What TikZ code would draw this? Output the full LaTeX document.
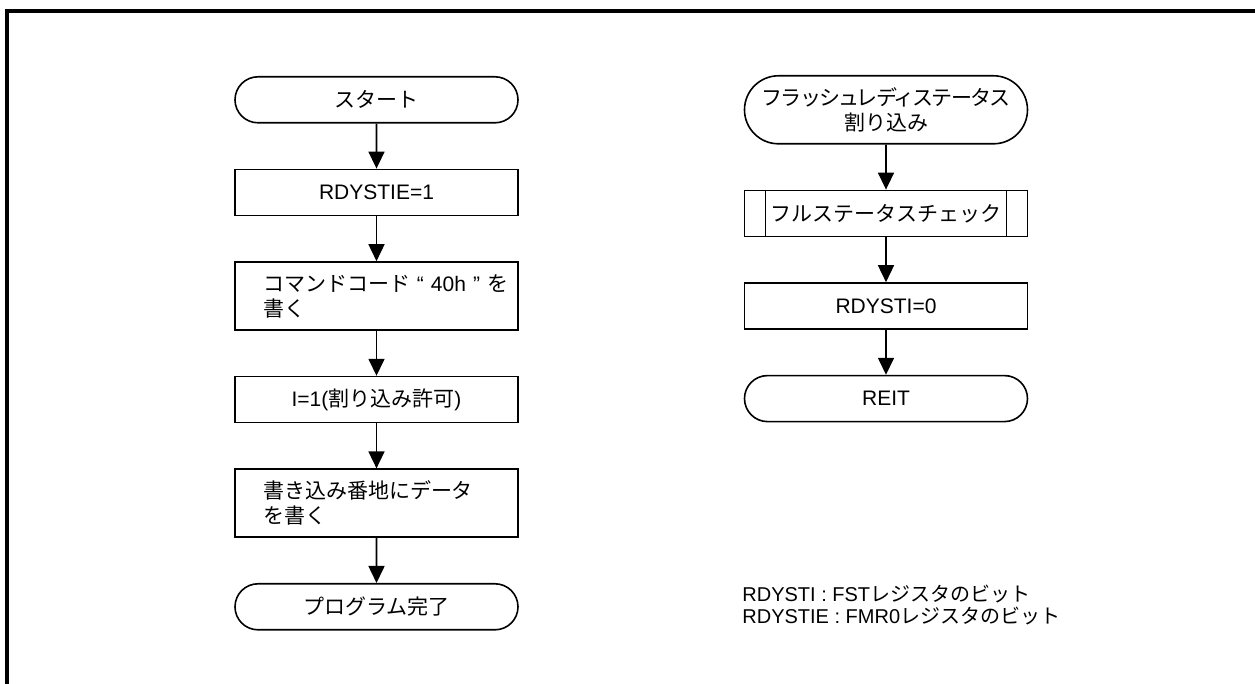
\documentclass[tikz,border=0pt]{standalone}
\usepackage{fontspec}
\setmainfont{Liberation Sans}
\newfontfamily\jp{Noto Sans CJK JP}
\newfontfamily\jpnarrow[LetterSpace=-9]{Noto Sans CJK JP}
\usetikzlibrary{arrows.meta,positioning,shapes.misc}
\tikzset{
  >={Triangle[width=8pt,length=8.5pt]},
  every node/.style={font=\fontsize{10.5pt}{12.5pt}\selectfont,text=black},
  box/.style={draw,line width=0.8pt,minimum width=141.5pt,minimum height=23pt,align=center,inner sep=0pt},
  tallbox/.style={box,minimum height=34pt,text width=113.5pt,align=left},
  termbox/.style={box,rounded rectangle},
  subbox/.style={box,path picture={
      \draw[line width=0.8pt] ([xshift=10.5pt]path picture bounding box.north west) -- ([xshift=10.5pt]path picture bounding box.south west);
      \draw[line width=0.8pt] ([xshift=-10.5pt]path picture bounding box.north east) -- ([xshift=-10.5pt]path picture bounding box.south east);}},
  arrow/.style={->,line width=0.8pt},
  note/.style={align=left,inner sep=0pt,font=\fontsize{10pt}{11pt}\selectfont},
}

\begin{document}
\begin{tikzpicture}[node distance=22.5pt]
\useasboundingbox (0,0) rectangle (627.5pt,-342pt);
\draw[line width=1.6pt] (3.5pt,-342pt) -- (3.5pt,-5.5pt) -- (627.5pt,-5.5pt);

% main routine
\node[termbox,anchor=north] (start) at (188.25pt,-38pt) {{\jp スタート}};
\node[box,below=of start] (setie) {RDYSTIE=1};
\node[tallbox,below=of setie] (cmd) {{\jp コマンドコード}~“~40h~”~{\jp を}\\{\jp 書く}};
\node[box,below=of cmd] (ien) {I=1({\jp 割り込み許可})};
\node[tallbox,below=of ien] (wdata) {{\jp 書き込み番地にデータ}\\{\jp を書く}};
\node[termbox,below=of wdata] (done) {{\jp プログラム完了}};

\draw[arrow] (start) -- (setie);
\draw[arrow] (setie) -- (cmd);
\draw[arrow] (cmd) -- (ien);
\draw[arrow] (ien) -- (wdata);
\draw[arrow] (wdata) -- (done);

% interrupt routine
\node[termbox,minimum height=34pt,anchor=north] (irq) at (443pt,-37.5pt) {{\jpnarrow フラッシュレディステータス}\\{\jp 割り込み}};
\node[subbox,below=of irq] (fsc) {{\jp フルステータスチェック}};
\node[box,below=of fsc] (clr) {RDYSTI=0};
\node[termbox,below=of clr] (reit) {REIT};

\draw[arrow] (irq) -- (fsc);
\draw[arrow] (fsc) -- (clr);
\draw[arrow] (clr) -- (reit);

\node[note,anchor=west] (notes) at (371pt,-302.5pt) {RDYSTI : FST{\jp レジスタのビット}\\RDYSTIE : FMR0{\jp レジスタのビット}};

\end{tikzpicture}
\end{document}
